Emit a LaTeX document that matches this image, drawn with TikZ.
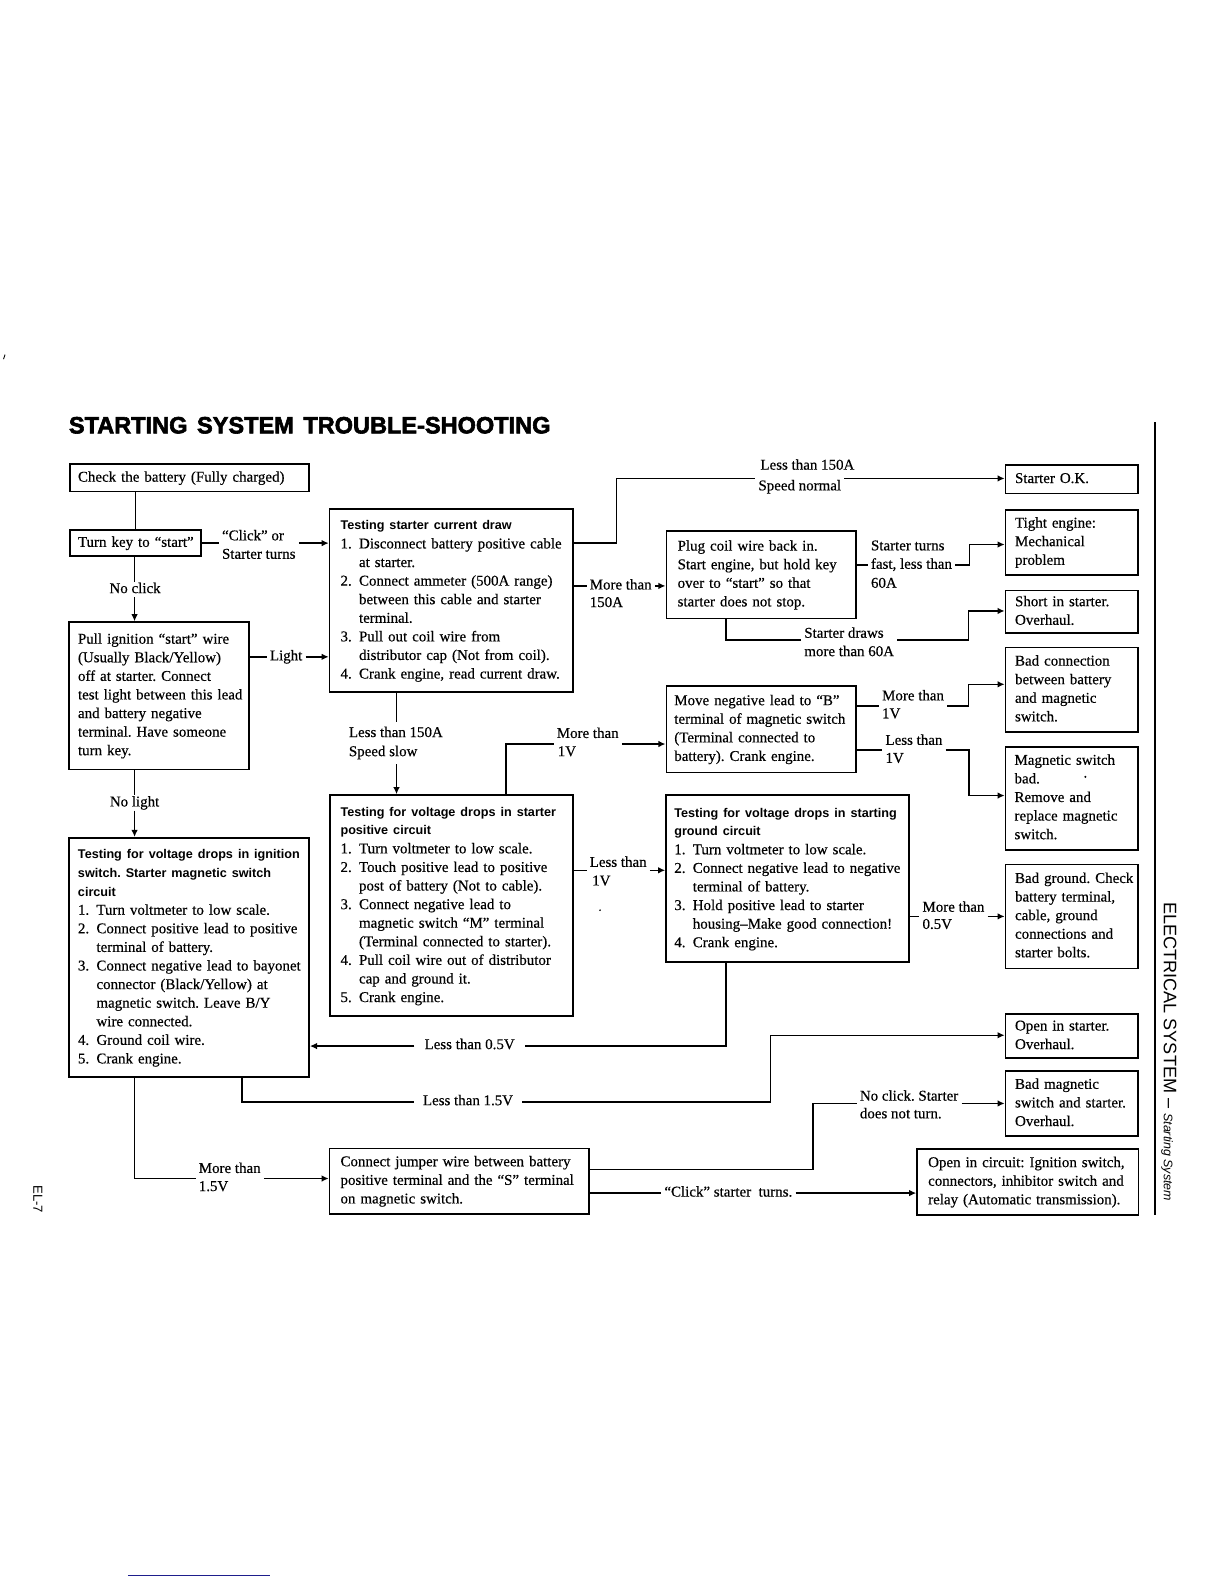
\documentclass[tikz,border=0pt]{standalone}
\usepackage{fontspec}
\setmainfont{Liberation Serif}[FakeBold=0.4]
\newfontfamily\sansfont{Liberation Sans}
\newfontfamily\titlefont{Liberation Sans}[BoldFeatures={FakeBold=2.5}]
\usetikzlibrary{arrows.meta}
\definecolor{rulblue}{RGB}{30,30,140}
\frenchspacing
\newcommand\bodyfont{\fontsize{14.8}{18.4}\selectfont\frenchspacing}
\newcommand\hdfont{\sansfont\bfseries\fontsize{12.5}{18.4}\selectfont}
\newcommand\nm[1]{\makebox[18.3pt][l]{#1}}
\newcommand\indt{\hspace*{18.3pt}}
\begin{document}
\begin{tikzpicture}[x=1pt,y=-1pt,
  box/.style={draw, line width=1.6pt, anchor=north west, inner ysep=0pt, font=\bodyfont},
  lbl/.style={font=\bodyfont, inner xsep=3pt, inner ysep=1pt, text height=10pt, text depth=3pt},
  con/.style={line width=1.5pt},
  arr/.style={con, -{Latex[length=7pt,width=6.5pt]}}]
\fill[white] (0,0) rectangle (1212,1568);
\useasboundingbox (0,0) rectangle (1212,1568);

% title and page decorations
\node[anchor=base west, inner sep=0pt, font=\titlefont\bfseries\fontsize{23.3}{28}\selectfont] (title) at (68,429) {STARTING\hspace{3pt} SYSTEM\hspace{3pt} TROUBLE-SHOOTING};
\draw[line width=2pt] (1143,418) -- (1143,1203);
\node[rotate=-90, anchor=west, inner sep=0pt, font=\sansfont\fontsize{17.9}{20}\selectfont] (side) at (1157,893) {ELECTRICAL SYSTEM – {\itshape\fontsize{12.3}{14}\selectfont Starting System}};
\node[rotate=-90, inner sep=0pt, font=\sansfont\fontsize{13}{15}\selectfont] (page) at (37.6,1187) {EL-7};
\draw[line width=1.8pt, rulblue] (126.7,1559.6) -- (267.4,1559.6);
\draw[line width=0.8pt] (3.5,355.5) -- (5,351);
\fill (594,901) circle (0.9);
\fill (1074.4,769) circle (1.2);

% boxes
\node[box, inner xsep=8.2pt, text width=220.6pt, minimum height=27.1pt] (B1) at (68.2,458.8)
 {\begin{tabular}{@{}l@{}}Check the battery (Fully charged)\end{tabular}};
\node[box, inner xsep=8.2pt, text width=113.4pt, minimum height=25.5pt] (B2) at (68.2,524.1)
 {\begin{tabular}{@{}l@{}}Turn key to “start”\end{tabular}};
\node[box, inner xsep=9.2pt, text width=160.2pt, minimum height=145.8pt] (B3) at (67.2,615)
 {\begin{tabular}{@{}l@{}}
 Pull ignition “start” wire\\
 (Usually Black/Yellow)\\
 off at starter. Connect\\
 test light between this lead\\
 and battery negative\\
 terminal. Have someone\\
 turn key.\end{tabular}};
\node[box, inner xsep=9.2pt, text width=219.6pt, minimum height=237pt] (B4) at (67.2,828.5)
 {\begin{tabular}{@{}l@{}}
 {\hdfont Testing for voltage drops in ignition}\\
 {\hdfont switch. Starter magnetic switch}\\
 {\hdfont circuit}\\
 \nm{1.}Turn voltmeter to low scale.\\
 \nm{2.}Connect positive lead to positive\\
 \indt terminal of battery.\\
 \nm{3.}Connect negative lead to bayonet\\
 \indt connector (Black/Yellow) at\\
 \indt magnetic switch. Leave B/Y\\
 \indt wire connected.\\
 \nm{4.}Ground coil wire.\\
 \nm{5.}Crank engine.\end{tabular}};
\node[box, inner xsep=10.9pt, text width=219.3pt, minimum height=180.6pt] (B5) at (325.4,503.3)
 {\begin{tabular}{@{}l@{}}
 {\hdfont Testing starter current draw}\\
 \nm{1.}Disconnect battery positive cable\\
 \indt at starter.\\
 \nm{2.}Connect ammeter (500A range)\\
 \indt between this cable and starter\\
 \indt terminal.\\
 \nm{3.}Pull out coil wire from\\
 \indt distributor cap (Not from coil).\\
 \nm{4.}Crank engine, read current draw.\end{tabular}};
\node[box, inner xsep=10.3pt, text width=219.9pt, minimum height=218.5pt] (B6) at (326,786.2)
 {\begin{tabular}{@{}l@{}}
 {\hdfont Testing for voltage drops in starter}\\
 {\hdfont positive circuit}\\
 \nm{1.}Turn voltmeter to low scale.\\
 \nm{2.}Touch positive lead to positive\\
 \indt post of battery (Not to cable).\\
 \nm{3.}Connect negative lead to\\
 \indt magnetic switch “M” terminal\\
 \indt (Terminal connected to starter).\\
 \nm{4.}Pull coil wire out of distributor\\
 \indt cap and ground it.\\
 \nm{5.}Crank engine.\end{tabular}};
\node[box, inner xsep=10.9pt, text width=234.8pt, minimum height=64.8pt] (B7) at (325.4,1136)
 {\begin{tabular}{@{}l@{}}
 Connect jumper wire between battery\\
 positive terminal and the “S” terminal\\
 on magnetic switch.\end{tabular}};
\node[box, inner xsep=11.2pt, text width=165.4pt, minimum height=86.8pt] (B8) at (658.8,524.8)
 {\begin{tabular}{@{}l@{}}
 Plug coil wire back in.\\
 Start engine, but hold key\\
 over to “start” so that\\
 starter does not stop.\end{tabular}};
\node[box, inner xsep=7.9pt, text width=172pt, minimum height=85.7pt] (B9) at (658.8,678.3)
 {\begin{tabular}{@{}l@{}}
 Move negative lead to “B”\\
 terminal of magnetic switch\\
 (Terminal connected to\\
 battery). Crank engine.\end{tabular}};
\node[box, inner xsep=8.2pt, text width=223.9pt, minimum height=165.1pt] (B10) at (658.5,786.2)
 {\begin{tabular}{@{}l@{}}
 {\hdfont Testing for voltage drops in starting}\\
 {\hdfont ground circuit}\\
 \nm{1.}Turn voltmeter to low scale.\\
 \nm{2.}Connect negative lead to negative\\
 \indt terminal of battery.\\
 \nm{3.}Hold positive lead to starter\\
 \indt housing–Make good connection!\\
 \nm{4.}Crank engine.\end{tabular}};
\node[box, inner xsep=9.5pt, text width=112pt, minimum height=28.3pt] (R1) at (994.5,459.5)
 {\begin{tabular}{@{}l@{}}Starter O.K.\end{tabular}};
\node[box, inner xsep=9.5pt, text width=112pt, minimum height=64.4pt] (R2) at (994.5,504)
 {\begin{tabular}{@{}l@{}}Tight engine:\\ Mechanical\\ problem\end{tabular}};
\node[box, inner xsep=9.5pt, text width=112pt, minimum height=42.4pt] (R3) at (994.5,583.6)
 {\begin{tabular}{@{}l@{}}Short in starter.\\ Overhaul.\end{tabular}};
\node[box, inner xsep=9.5pt, text width=112pt, minimum height=84pt] (R4) at (994.5,640)
 {\begin{tabular}{@{}l@{}}Bad connection\\ between battery\\ and magnetic\\ switch.\end{tabular}};
\node[box, inner xsep=9pt, text width=113pt, minimum height=102pt] (R5) at (994.5,738.4)
 {\begin{tabular}{@{}l@{}}Magnetic switch\\ bad.\\ Remove and\\ replace magnetic\\ switch.\end{tabular}};
\node[box, inner xsep=9.5pt, text width=112pt, minimum height=102.9pt] (R6) at (994.5,854.9)
 {\begin{tabular}{@{}l@{}}Bad ground. Check\\ battery terminal,\\ cable, ground\\ connections and\\ starter bolts.\end{tabular}};
\node[box, inner xsep=9.5pt, text width=112pt, minimum height=43.6pt] (R7) at (994.5,1003)
 {\begin{tabular}{@{}l@{}}Open in starter.\\ Overhaul.\end{tabular}};
\node[box, inner xsep=9.5pt, text width=112pt, minimum height=64.5pt] (R8) at (994.5,1059.5)
 {\begin{tabular}{@{}l@{}}Bad magnetic\\ switch and starter.\\ Overhaul.\end{tabular}};
\node[box, inner xsep=11pt, text width=197pt, minimum height=65.5pt] (R9) at (907,1136.5)
 {\begin{tabular}{@{}l@{}}Open in circuit: Ignition switch,\\ connectors, inhibitor switch and\\ relay (Automatic transmission).\end{tabular}};

% labels
\node[lbl, anchor=west] (lClick1) at (216.6,531.4) {“Click” or};
\node[lbl, anchor=west] (lClick2) at (216.6,549.6) {Starter turns};
\node[lbl] (lNC) at (133.7,583.6) {No click};
\node[lbl, anchor=west] (lLight) at (264,650.2) {Light};
\node[lbl] (lNL) at (133.2,794.8) {No light};
\node[lbl, anchor=west] (lL150a) at (749.6,461.4) {Less than 150A};
\node[lbl, anchor=west] (lL150b) at (747.6,481.9) {Speed normal};
\node[lbl, anchor=west] (lM150a) at (580.6,580) {More than};
\node[lbl, anchor=west] (lM150b) at (580.6,597.4) {150A};
\node[lbl, anchor=west] (lST1) at (859,541.3) {Starter turns};
\node[lbl, anchor=west] (lST2) at (859,559.5) {fast, less than};
\node[lbl, anchor=west] (lST3) at (859,578.3) {60A};
\node[lbl, anchor=west] (lSD1) at (793,627.8) {Starter draws};
\node[lbl, anchor=west] (lSD2) at (793,646) {more than 60A};
\node[lbl, anchor=west, inner ysep=5pt] (lLS1) at (342.2,726.1) {Less than 150A};
\node[lbl, anchor=west, inner ysep=5pt] (lLS2) at (342.2,745) {Speed slow};
\node[lbl, anchor=west] (lMV1) at (548,727) {More than};
\node[lbl, anchor=west] (lMV2) at (549,745) {1V};
\node[lbl, anchor=west] (lLV1) at (580.6,854.6) {Less than};
\node[lbl, anchor=west] (lLV2) at (583,873) {1V};
\node[lbl, anchor=west] (lMR4a) at (870,689.8) {More than};
\node[lbl, anchor=west] (lMR4b) at (870,707.5) {1V};
\node[lbl, anchor=west] (lLR5a) at (873.4,733.8) {Less than};
\node[lbl, anchor=west] (lLR5b) at (873.4,751.6) {1V};
\node[lbl, anchor=west] (lMR6a) at (910,899) {More than};
\node[lbl, anchor=west] (lMR6b) at (910,916) {0.5V};
\node[lbl, inner xsep=10pt] (lL05) at (464.9,1035) {Less than 0.5V};
\node[lbl, inner xsep=9pt] (lL15) at (463.3,1090.5) {Less than 1.5V};
\node[lbl, anchor=west] (lMB7a) at (193.6,1157.6) {More than};
\node[lbl, anchor=west] (lMB7b) at (193.6,1175.5) {1.5V};
\node[lbl, anchor=west] (lNCS1) at (848,1086) {No click. Starter};
\node[lbl, anchor=west] (lNCS2) at (848,1103.5) {does not turn.};
\node[lbl, anchor=west] (lCT) at (654.5,1181) {“Click” starter\ \ turns.};

% bend coordinates
\coordinate (vL) at (133.2,0);
\coordinate (vS) at (392.5,0);
\coordinate (k6a) at (610.5,537.3);
\coordinate (k6b) at (610.5,473.6);
\coordinate (k8a) at (959.5,559.5);
\coordinate (k8b) at (959.5,539);
\coordinate (k9a) at (718.6,633.5);
\coordinate (k9b) at (958.5,633.5);
\coordinate (k9c) at (958.5,604.8);
\coordinate (k11) at (500.7,736.5);
\coordinate (k12) at (575,861.5);
\coordinate (k13a) at (958.5,698.8);
\coordinate (k13b) at (958.5,677.4);
\coordinate (k14a) at (959,742.6);
\coordinate (k14b) at (959,787.5);
\coordinate (k16) at (718.6,1035.5);
\coordinate (k17a) at (239.7,1091);
\coordinate (k17b) at (762.5,1091);
\coordinate (k17c) at (762.5,1024.8);
\coordinate (k18) at (133.2,1166.6);
\coordinate (k19a) at (804.7,1157.6);
\coordinate (k19b) at (804.7,1092.3);

% connectors
\draw[con] (B2.north) -- (B2.north |- B1.south);
\draw[con] (B2.east) -- (lClick1.west |- B2.east);
\draw[arr] (lClick2.east |- B2.east) -- (B5.west |- B2.east);
\draw[con] (vL |- B2.south) -- (vL |- lNC.north);
\draw[arr] (vL |- lNC.south) -- (vL |- B3.north);
\draw[con] (B3.east |- lLight.west) -- (lLight.west);
\draw[arr] (lLight.east) -- (B5.west |- lLight.east);
\draw[con] (vL |- B3.south) -- (vL |- lNL.north);
\draw[arr] (vL |- lNL.south) -- (vL |- B4.north);
\draw[con] (B5.east |- k6a) -- (k6a) -- (k6b) -- (lL150b.west |- k6b);
\draw[arr] (lL150b.east |- k6b) -- (R1.west |- k6b);
\draw[con] (B5.east |- lM150a.west) -- (lM150a.west);
\draw[arr] (lM150a.east) -- (B8.west |- lM150a.east);
\draw[con] (B8.east |- lST2.west) -- (lST2.west);
\draw[arr] (lST2.east) -- (k8a) -- (k8b) -- (R2.west |- k8b);
\draw[con] (k9a |- B8.south) -- (k9a) -- (lSD1.west |- k9a);
\draw[arr] (lSD2.east |- k9a) -- (k9b) -- (k9c) -- (R3.west |- k9c);
\draw[con] (vS |- B5.south) -- (vS |- lLS1.north);
\draw[arr] (vS |- lLS2.south) -- (vS |- B6.north);
\draw[con] (k11 |- B6.north) -- (k11) -- (lMV1.west |- k11);
\draw[arr] (lMV1.east |- k11) -- (B9.west |- k11);
\draw[con] (B6.east |- k12) -- (lLV1.west |- k12);
\draw[arr] (lLV1.east |- k12) -- (B10.west |- k12);
\draw[con] (B9.east |- k13a) -- (lMR4a.west |- k13a);
\draw[arr] (lMR4a.east |- k13a) -- (k13a) -- (k13b) -- (R4.west |- k13b);
\draw[con] (B9.east |- k14a) -- (lLR5a.west |- k14a);
\draw[arr] (lLR5a.east |- k14a) -- (k14a) -- (k14b) -- (R5.west |- k14b);
\draw[con] (B10.east |- R6.west) -- (lMR6a.west |- R6.west);
\draw[arr] (lMR6a.east |- R6.west) -- (R6.west);
\draw[con] (k16 |- B10.south) -- (k16) -- (lL05.east |- k16);
\draw[arr] (lL05.west |- k16) -- (B4.east |- k16);
\draw[con] (k17a |- B4.south) -- (k17a) -- (lL15.west |- k17a);
\draw[arr] (lL15.east |- k17a) -- (k17b) -- (k17c) -- (R7.west |- k17c);
\draw[con] (vL |- B4.south) -- (k18) -- (lMB7a.west |- k18);
\draw[arr] (lMB7a.east |- k18) -- (B7.west |- k18);
\draw[con] (B7.east |- k19a) -- (k19a) -- (k19b) -- (lNCS1.west |- k19b);
\draw[arr] (lNCS1.east |- k19b) -- (R8.west |- k19b);
\draw[con] (B7.east |- lCT.west) -- (lCT.west);
\draw[arr] (lCT.east) -- (R9.west |- lCT.east);
\end{tikzpicture}
\end{document}
